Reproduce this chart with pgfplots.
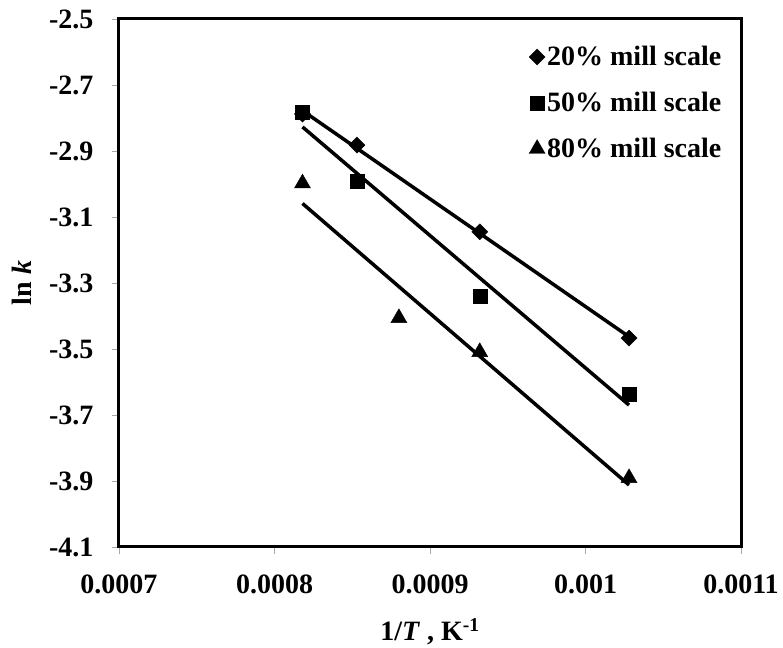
\documentclass[border=0pt]{standalone}
\usepackage{fontspec}
\setmainfont{Liberation Serif}
\usepackage{pgfplots}
\usepackage{pgfplotstable}
\pgfplotsset{compat=1.18}

\pgfplotstableread{
x y
0.000818 -2.788
0.000853 -2.882
0.000932 -3.145
0.001028 -3.467
}\twenty
\pgfplotstableread{
x y
0.000818 -2.781
0.000853 -2.993
0.000932 -3.339
0.001028 -3.636
}\fifty
\pgfplotstableread{
x y
0.000818 -2.998
0.000880 -3.406
0.000932 -3.509
0.001028 -3.891
}\eighty

\begin{document}
\begin{tikzpicture}
\begin{axis}[
  name=ax,
  scale only axis, width=622pt, height=528pt,
  xmin=0.0007, xmax=0.0011, ymin=-4.1, ymax=-2.5,
  xtick={0.0007,0.0008,0.0009,0.001,0.0011},
  xticklabels={0.0007,0.0008,0.0009,0.001,0.0011},
  ytick={-4.1,-3.9,-3.7,-3.5,-3.3,-3.1,-2.9,-2.7,-2.5},
  yticklabels={-4.1,-3.9,-3.7,-3.5,-3.3,-3.1,-2.9,-2.7,-2.5},
  scaled x ticks=false, scaled y ticks=false,
  tick align=outside, tick pos=left, major tick length=7pt,
  tick style={gray!70, line width=0.8pt},
  axis line style={black, line width=3pt},
  tick label style={font=\fontsize{28}{30}\selectfont\bfseries},
  xticklabel style={yshift=-17pt},
  yticklabel style={xshift=-15pt},
  xlabel={1/\textit{T} , K\textsuperscript{-1}},
  ylabel={ln \textit{k}},
  label style={font=\fontsize{28}{30}\selectfont\bfseries},
  xlabel style={at={(axis description cs:0.5,-0.16)}, anchor=center},
  ylabel style={at={(axis description cs:-0.156,0.5)}, anchor=center},
  legend style={draw=none, fill=none, at={(axis description cs:0.972,0.952)}, anchor=north east,
    font=\fontsize{28}{30}\selectfont\bfseries, row sep=21pt, inner sep=0pt},
  legend cell align=left,
  legend image code/.code={\draw[mark repeat=2,mark phase=2,#1] plot coordinates {(0pt,0pt) (7pt,0pt) (14pt,0pt)};},
]
\addplot[only marks, mark=square*, mark size=5.7pt, mark options={rotate=45, fill=black, draw=black, line width=0.4pt}] table[x=x,y=y]{\twenty};
\addlegendentry{20\% mill scale}
\addplot[only marks, mark=square*, mark size=7pt, mark options={fill=black, draw=black, line width=0.4pt}] table[x=x,y=y]{\fifty};
\addlegendentry{50\% mill scale}
\addplot[only marks, mark=triangle*, mark size=9.2pt, mark options={fill=black, draw=black, line width=0.4pt}] table[x=x,y=y]{\eighty};
\addlegendentry{80\% mill scale}
\addplot[forget plot, no marks, black, line width=3.5pt] table[x=x, y={create col/linear regression={y=y}}]{\twenty};
\addplot[forget plot, no marks, black, line width=3.5pt] table[x=x, y={create col/linear regression={y=y}}]{\fifty};
\addplot[forget plot, no marks, black, line width=3.5pt] table[x=x, y={create col/linear regression={y=y}}]{\eighty};
\end{axis}
\path (ax.south west) +(-119pt,-98pt);
\path (ax.north east) +(42pt,19pt);
\end{tikzpicture}
\end{document}
